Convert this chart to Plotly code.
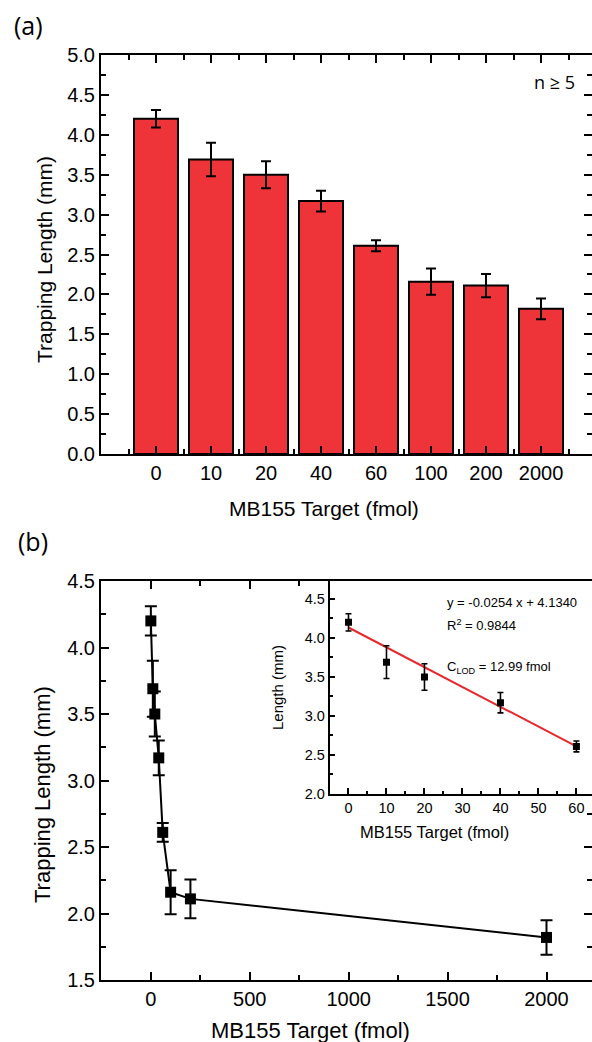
import plotly.graph_objects as go

# ---------------- data ----------------
categories = ["0", "10", "20", "40", "60", "100", "200", "2000"]
target_fmol = [0, 10, 20, 40, 60, 100, 200, 2000]
length_mm = [4.20, 3.69, 3.50, 3.17, 2.61, 2.16, 2.11, 1.82]
length_err = [0.11, 0.21, 0.17, 0.13, 0.07, 0.165, 0.145, 0.13]

inset_count = 5                 # inset shows the 0-60 fmol points
fit_x = [0, 60]                 # linear fit drawn in the inset
fit_y = [4.134, 2.610]

eq_text = "y = -0.0254 x + 4.1340"
r2_text = "R<sup>2</sup> = 0.9844"
lod_text = "C<sub>LOD</sub> = 12.99 fmol"

# ---------------- layout helpers ----------------
W, H = 592, 1042
def fx(p):
    return p / W
def fy(p):
    return 1 - p / H

FONT = "Liberation Sans, Arial, sans-serif"
LABEL = "Open Sans, Liberation Sans, sans-serif"
BAR_RED = "#EE3439"

fig = go.Figure()

# (a) bar chart
fig.add_trace(go.Bar(
    x=list(range(len(categories))), y=length_mm,
    error_y=dict(type="data", array=length_err, color="black", thickness=2, width=5),
    marker=dict(color=BAR_RED, line=dict(color="black", width=2)),
    width=0.8, xaxis="x", yaxis="y", showlegend=False,
))

# (b) line + markers
fig.add_trace(go.Scatter(
    x=target_fmol, y=length_mm, mode="lines+markers",
    line=dict(color="black", width=2),
    marker=dict(symbol="square", size=11, color="black"),
    error_y=dict(type="data", array=length_err, color="black", thickness=2, width=6),
    xaxis="x2", yaxis="y2", showlegend=False,
))

# inset: fit line and points
fig.add_trace(go.Scatter(
    x=fit_x, y=fit_y, mode="lines", line=dict(color="#E8282D", width=2),
    xaxis="x3", yaxis="y3", showlegend=False,
))
fig.add_trace(go.Scatter(
    x=target_fmol[:inset_count], y=length_mm[:inset_count], mode="markers",
    marker=dict(symbol="square", size=7, color="black"),
    error_y=dict(type="data", array=length_err[:inset_count], color="black", thickness=1.6, width=3),
    xaxis="x3", yaxis="y3", showlegend=False,
))

common = dict(showgrid=False, zeroline=False, showline=True, linecolor="black",
              ticks="inside", tickcolor="black", automargin=False)

fig.update_layout(
    width=W, height=H, margin=dict(l=0, r=0, t=0, b=0),
    paper_bgcolor="white", plot_bgcolor="white",
    font=dict(family=FONT, color="black", size=20),
    xaxis=dict(**common, domain=[fx(101), 1], range=[-1, 7.927], anchor="y",
               tickmode="array", tickvals=list(range(len(categories))), ticktext=categories,
               ticklen=8, tickwidth=2, linewidth=2, mirror="ticks",
               minor=dict(tickmode="array", tickvals=[i - 0.5 for i in range(len(categories) + 1)],
                          ticks="inside", ticklen=5, tickwidth=2, tickcolor="black"),
               tickfont=dict(size=20)),
    yaxis=dict(**common, domain=[fy(454), fy(55)], range=[0, 5], anchor="x",
               tick0=0, dtick=0.5, tickformat=".1f", ticklen=8, tickwidth=2, linewidth=2,
               mirror="ticks",
               minor=dict(dtick=0.25, ticks="inside", ticklen=5, tickwidth=2, tickcolor="black"),
               tickfont=dict(size=20)),
    xaxis2=dict(**common, domain=[fx(101), 1], range=[-252, 2230], anchor="y2",
                tick0=0, dtick=500, ticklen=8, tickwidth=2, linewidth=2, mirror="ticks",
                minor=dict(dtick=250, ticks="inside", ticklen=5, tickwidth=2, tickcolor="black"),
                tickfont=dict(size=20)),
    yaxis2=dict(**common, domain=[fy(980), fy(581)], range=[1.5, 4.5], anchor="x2",
                tick0=0, dtick=0.5, tickformat=".1f", ticklen=8, tickwidth=2, linewidth=2,
                mirror="ticks",
                minor=dict(dtick=0.25, ticks="inside", ticklen=5, tickwidth=2, tickcolor="black"),
                tickfont=dict(size=20)),
    xaxis3=dict(**common, domain=[fx(329.5), 1], range=[-5, 64.1], anchor="y3",
                tick0=0, dtick=10, ticklen=6, tickwidth=1.5, linewidth=1.6,
                minor=dict(dtick=5, ticks="inside", ticklen=3.5, tickwidth=1.5, tickcolor="black"),
                tickfont=dict(size=14.5)),
    yaxis3=dict(**common, domain=[fy(794), fy(581)], range=[2.0, 4.73], anchor="x3",
                tick0=0, dtick=0.5, tickformat=".1f", ticklen=6, tickwidth=1.5, linewidth=1.6,
                minor=dict(dtick=0.25, ticks="inside", ticklen=3.5, tickwidth=1.5, tickcolor="black"),
                tickfont=dict(size=14.5)),
)

def ann(text, x, y, size, family=FONT, angle=0, xanchor="center"):
    fig.add_annotation(text=text, x=fx(x), y=fy(y), xref="paper", yref="paper",
                       showarrow=False, textangle=angle, xanchor=xanchor, yanchor="middle",
                       font=dict(size=size, family=family, color="black"))

ann("(a)", 28, 25, 25, LABEL)
ann("(b)", 33, 541, 25, LABEL)
ann("n ≥ 5", 554, 82, 18, LABEL)
ann("Trapping Length (mm)", 44, 260, 21, angle=-90)
ann("MB155 Target (fmol)", 324, 508, 21)
ann("Trapping Length (mm)", 42, 795, 22, angle=-90)
ann("MB155 Target (fmol)", 310, 1030, 22)
ann("Length (mm)", 277, 688, 15, angle=-90)
ann("MB155 Target (fmol)", 434, 832, 16.5)
ann(eq_text, 445, 602, 13, xanchor="left")
ann(r2_text, 445, 625, 13, xanchor="left")
ann(lod_text, 445, 667, 13, xanchor="left")

fig.write_html("out.html")
